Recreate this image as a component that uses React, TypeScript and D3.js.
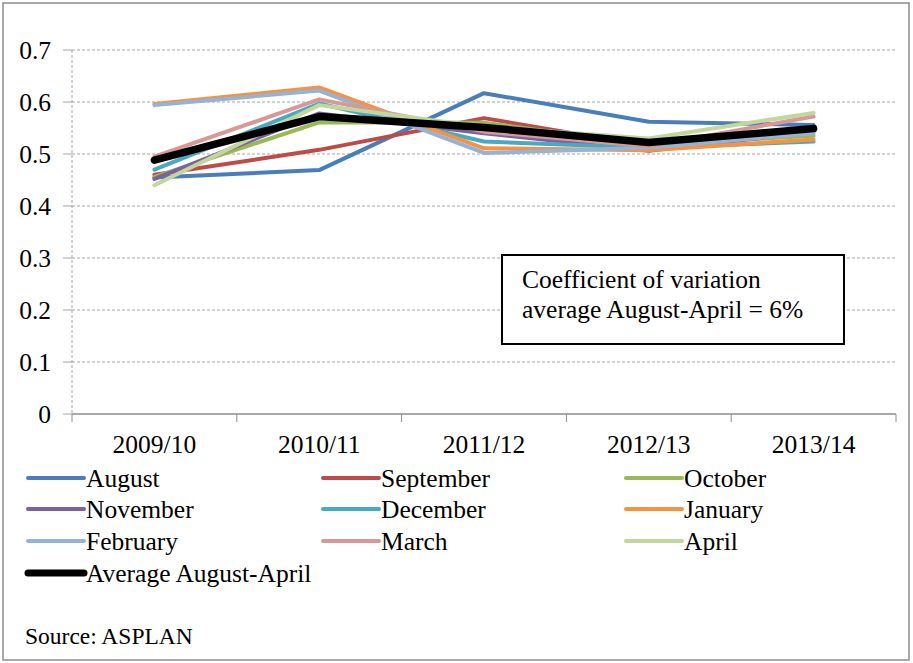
import React from "react";
import * as d3 from "d3";

const categories = ["2009/10", "2010/11", "2011/12", "2012/13", "2013/14"];
const seriesNames = ["August", "September", "October", "November", "December", "January", "February", "March", "April", "Average August-April"];
const august = [0.455, 0.469, 0.617, 0.562, 0.556];
const september = [0.46, 0.508, 0.569, 0.515, 0.545];
const october = [0.456, 0.561, 0.56, 0.518, 0.535];
const november = [0.452, 0.578, 0.54, 0.506, 0.543];
const december = [0.47, 0.597, 0.524, 0.512, 0.524];
const january = [0.596, 0.628, 0.511, 0.507, 0.528];
const february = [0.594, 0.622, 0.502, 0.512, 0.54];
const march = [0.495, 0.605, 0.543, 0.515, 0.572];
const april = [0.44, 0.594, 0.552, 0.53, 0.579];
const average = [0.488, 0.572, 0.551, 0.522, 0.549];
const yTicks = [0, 0.1, 0.2, 0.3, 0.4, 0.5, 0.6, 0.7];
const colors = ["#4A7EBB", "#BE4B48", "#98B954", "#7D60A0", "#46AAC5", "#F69240", "#95B3D7", "#D99795", "#C3D69B", "#000000"];
const allSeries = [august, september, october, november, december, january, february, march, april, average];

const W = 913;
const H = 663;
const left = 72;
const right = 896;
const top = 50;
const bottom = 414;
const ts = { fontFamily: '"Liberation Serif"' };
const FS = 25.5;

export default function App() {
  const x = d3.scaleBand<string>().domain(categories).range([left, right]);
  const y = d3.scaleLinear().domain([0, 0.7]).range([bottom, top]);
  const line = d3
    .line<number>()
    .x((_, i) => (x(categories[i]) as number) + x.bandwidth() / 2)
    .y((d) => y(d));
  const boundaries = [...categories.map((c) => x(c) as number), right];

  const legendCols = [28, 323, 626];
  const legendRows = [478, 509, 541, 573];

  return (
    <svg width={W} height={H} style={{ position: "absolute", left: 0, top: 0, background: "#fff" }}>
      <rect x={0} y={0} width={W} height={H} fill="#fff" />
      <rect x={3} y={3} width={906} height={657} fill="none" stroke="#8c8c8c" strokeWidth={1.5} />
      {yTicks.slice(1).map((t) => (
        <line key={t} x1={left} x2={right} y1={y(t)} y2={y(t)} stroke="#a6a6a6" strokeWidth={1} strokeDasharray="3,2" />
      ))}
      <line x1={left} x2={left} y1={top} y2={bottom} stroke="#a6a6a6" strokeWidth={1} strokeDasharray="3,2" />
      {yTicks.map((t) => (
        <g key={t}>
          <line x1={63} x2={left} y1={y(t)} y2={y(t)} stroke="#a6a6a6" strokeWidth={1} />
          <text x={51} y={y(t) + 8.5} textAnchor="end" fontSize={FS} fill="#000" style={ts}>
            {t === 0 ? "0" : t.toFixed(1)}
          </text>
        </g>
      ))}
      <line x1={left} x2={right} y1={bottom} y2={bottom} stroke="#8c8c8c" strokeWidth={1.5} />
      {boundaries.map((b, i) => (
        <line key={i} x1={b} x2={b} y1={bottom} y2={bottom + 8} stroke="#8c8c8c" strokeWidth={1} />
      ))}
      {categories.map((c) => (
        <text key={c} x={(x(c) as number) + x.bandwidth() / 2} y={453} textAnchor="middle" fontSize={FS} fill="#000" style={ts}>
          {c}
        </text>
      ))}
      {allSeries.map((s, i) => (
        <path
          key={seriesNames[i]}
          d={line(s) as string}
          fill="none"
          stroke={colors[i]}
          strokeWidth={i === 9 ? 7.5 : 4}
          strokeLinejoin="round"
          strokeLinecap="round"
        />
      ))}
      <rect x={502} y={255} width={342} height={89} fill="#fff" stroke="#000" strokeWidth={2} />
      <text x={522} y={288} fontSize={FS} fill="#000" style={ts}>Coefficient of variation</text>
      <text x={522} y={318} fontSize={FS} fill="#000" style={ts}>average August-April = 6%</text>
      {seriesNames.map((n, i) => {
        const col = i % 3;
        const row = Math.floor(i / 3);
        const lx = legendCols[col];
        const ly = legendRows[row];
        return (
          <g key={n}>
            <line x1={lx} x2={lx + 56} y1={ly} y2={ly} stroke={colors[i]} strokeWidth={i === 9 ? 7 : 4} strokeLinecap="round" />
            <text x={lx + 58} y={ly + 8.5} fontSize={FS} fill="#000" style={ts}>
              {n}
            </text>
          </g>
        );
      })}
      <text x={25} y={644} fontSize={23.5} fill="#000" style={ts}>Source: ASPLAN</text>
    </svg>
  );
}
